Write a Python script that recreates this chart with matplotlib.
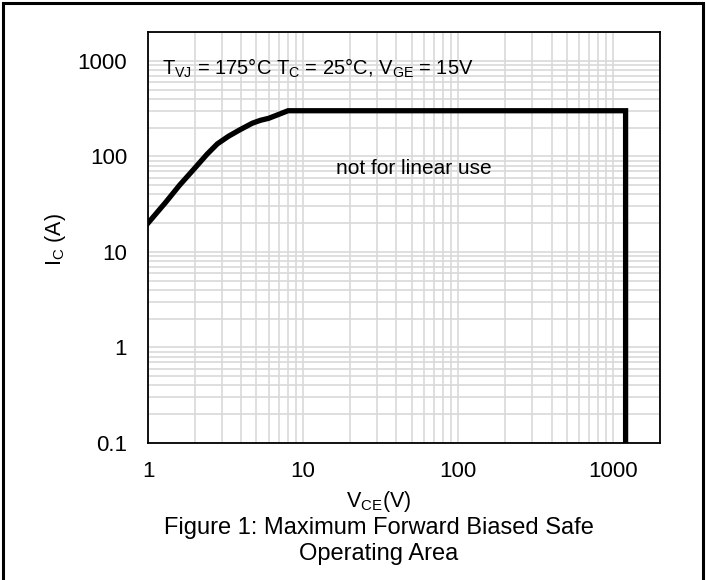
import matplotlib
matplotlib.use('Agg')
import matplotlib.pyplot as plt
from matplotlib.patches import Rectangle
from matplotlib.ticker import LogLocator, FixedLocator, FixedFormatter, NullFormatter

plt.rcParams['font.family'] = ['Liberation Sans', 'DejaVu Sans']
plt.rcParams['mathtext.fontset'] = 'custom'
plt.rcParams['mathtext.rm'] = 'Liberation Sans'
plt.rcParams['mathtext.it'] = 'Liberation Sans'
plt.rcParams['mathtext.default'] = 'rm'

# Safe operating area boundary
vce = [1.0, 1.3, 1.6, 2.0, 2.4, 2.8, 3.3, 3.9, 4.7, 5.3, 6.0, 6.7, 8.0, 1200, 1200]
ic = [20, 33, 50, 75, 105, 135, 162, 189, 222, 238, 250, 268, 300, 300, 0.1]

x_ticks = [1, 10, 100, 1000]
x_labels = ['1', '10', '100', '1000']
y_ticks = [0.1, 1, 10, 100, 1000]
y_labels = ['0.1', '1', '10', '100', '1000']

fig = plt.figure(figsize=(7.06, 5.80), dpi=100)
ax = fig.add_axes([148/706, 1 - 443/580, (660-148)/706, (443-32)/580])

ax.plot(vce, ic, color='black', lw=3.8, solid_joinstyle='miter')

ax.set_xscale('log')
ax.set_yscale('log')
ax.set_xlim(1, 2000)
ax.set_ylim(0.1, 2000)

ax.xaxis.set_major_locator(FixedLocator(x_ticks))
ax.xaxis.set_major_formatter(FixedFormatter(x_labels))
ax.yaxis.set_major_locator(FixedLocator(y_ticks))
ax.yaxis.set_major_formatter(FixedFormatter(y_labels))
ax.xaxis.set_minor_locator(LogLocator(base=10, subs=range(2, 10), numticks=20))
ax.yaxis.set_minor_locator(LogLocator(base=10, subs=range(2, 10), numticks=20))
ax.xaxis.set_minor_formatter(NullFormatter())
ax.yaxis.set_minor_formatter(NullFormatter())

ax.grid(True, which='both', color='#d9d9d9', lw=1.2)
ax.set_axisbelow(True)
ax.tick_params(which='both', length=0)
ax.tick_params(axis='x', labelsize=16, pad=13)
ax.tick_params(axis='y', labelsize=16, pad=15)
for s in ax.spines.values():
    s.set_linewidth(1.3)
    s.set_color('black')

# annotation (pixel position of baseline)
ax.text(162, 505, r'T$_{\mathrm{VJ}}$ = 175°C T$_{\mathrm{C}}$ = 25°C, V$_{\mathrm{GE}}$ = 15V',
        transform=None, fontsize=14.5, va='baseline')
ax.text(52, 74, 'not for linear use', fontsize=15, ha='center', va='center')

fig.text(55/706, 1 - 240/580, r'I$_{\mathrm{C}}$ (A)', rotation=90, fontsize=15.5,
         ha='center', va='center')
fig.text(379/706, 1 - 502/580, r'V$_{\mathrm{CE}}$(V)', fontsize=15.5, ha='center', va='center')
fig.text(379/706, 1 - 541/580, 'Figure 1: Maximum Forward Biased Safe\nOperating Area',
         fontsize=17, ha='center', va='center', linespacing=1.25)

# outer frame
fig.add_artist(Rectangle((3/706, -0.1), 700/706, 1.1 - 3/580, transform=fig.transFigure,
                         fill=False, edgecolor='black', lw=2.2))

fig.savefig('out.png', dpi=100)
